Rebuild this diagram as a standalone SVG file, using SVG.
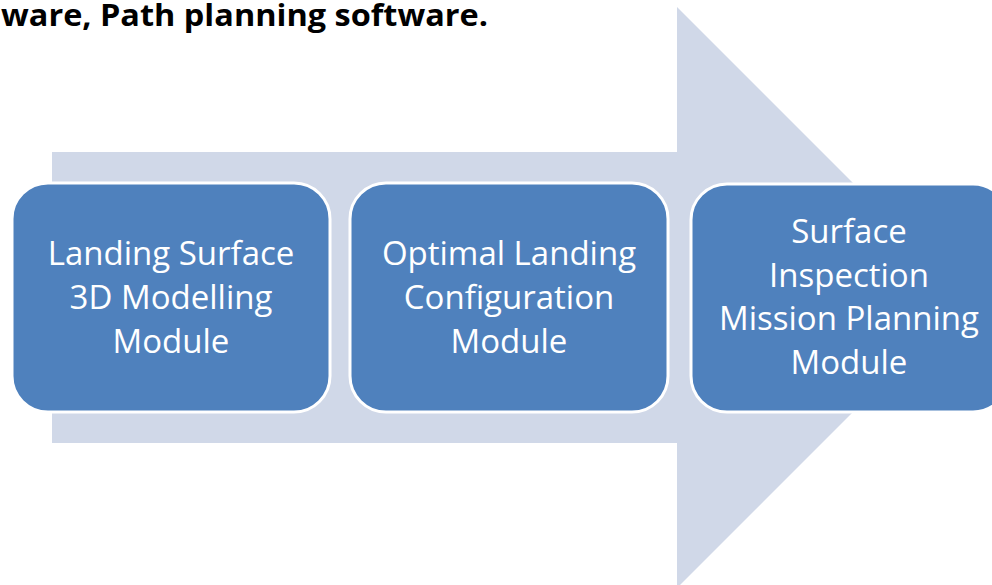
<svg xmlns="http://www.w3.org/2000/svg" width="992" height="585" viewBox="0 0 992 585">
  <style>
    .title { font-family: "Open Sans", "Liberation Sans", sans-serif; font-weight: bold; font-size: 31px; fill: #000000; }
    .box { fill: #4F81BD; stroke: #FFFFFF; stroke-width: 3; }
    .label { font-family: "Open Sans", "Liberation Sans", sans-serif; font-size: 33px; fill: #FFFFFF; text-anchor: middle; }
  </style>
  <rect width="992" height="585" fill="#FFFFFF"/>
  <text class="title" x="1" y="26" textLength="487" lengthAdjust="spacingAndGlyphs">ware, Path planning software.</text>

  <!-- background process arrow -->
  <g id="connectors">
    <path d="M52,152 H677 V7 L967.5,297.5 L677,588 V443 H52 Z" fill="#D0D8E8"/>
  </g>

  <g id="node1">
    <rect class="box" x="12" y="183" width="318" height="229" rx="36" ry="36"/>
    <text class="label" x="171" y="265">Landing Surface</text>
    <text class="label" x="171" y="309">3D Modelling</text>
    <text class="label" x="171" y="353">Module</text>
  </g>

  <g id="node2">
    <rect class="box" x="350" y="183" width="318" height="229" rx="36" ry="36"/>
    <text class="label" x="509" y="265">Optimal Landing</text>
    <text class="label" x="509" y="309">Configuration</text>
    <text class="label" x="509" y="353">Module</text>
  </g>

  <g id="node3">
    <rect class="box" x="691" y="184" width="318" height="228" rx="36" ry="36"/>
    <text class="label" x="849" y="243">Surface</text>
    <text class="label" x="849" y="287">Inspection</text>
    <text class="label" x="849" y="330">Mission Planning</text>
    <text class="label" x="849" y="374">Module</text>
  </g>
</svg>
